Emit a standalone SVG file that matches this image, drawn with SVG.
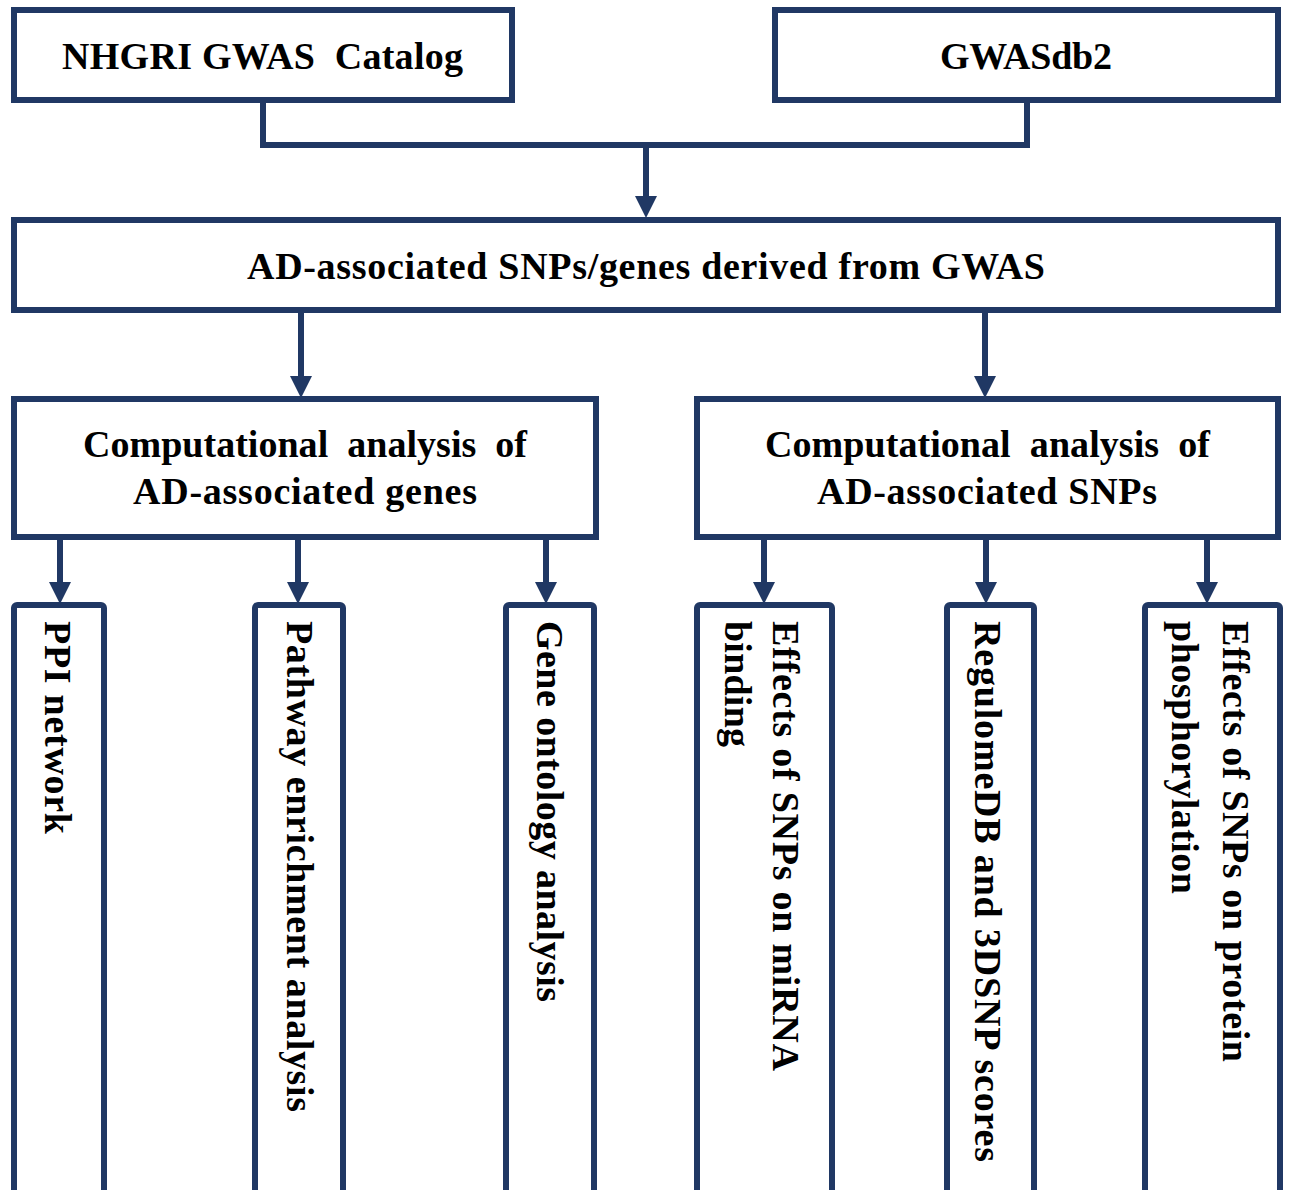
<svg xmlns="http://www.w3.org/2000/svg" width="1290" height="1190" viewBox="0 0 1290 1190">
<defs>
<style>
.box{fill:#ffffff;stroke:#203864;stroke-width:6}
.vbox{fill:#ffffff;stroke:#203864;stroke-width:6}
.con{fill:none;stroke:#203864;stroke-width:6}
.t{font-family:"Liberation Serif","Times New Roman",serif;font-weight:bold;font-size:38px;fill:#000;white-space:pre}
</style>
<marker id="ah" markerUnits="userSpaceOnUse" markerWidth="22" markerHeight="22" refX="10" refY="10" orient="auto" viewBox="0 0 20 20">
<path d="M0,0 L20,10 L0,20 Z" fill="#203864"/>
</marker>
</defs>
<rect width="1290" height="1190" fill="#ffffff"/>

<g id="connectors">
<path class="con" d="M263,101 V145 H1027 V101"/>
<line class="con" x1="646" y1="145" x2="646" y2="207" marker-end="url(#ah)"/>
<line class="con" x1="301" y1="313" x2="301" y2="387" marker-end="url(#ah)"/>
<line class="con" x1="985" y1="313" x2="985" y2="387" marker-end="url(#ah)"/>
<line class="con" x1="60" y1="540" x2="60" y2="593" marker-end="url(#ah)"/>
<line class="con" x1="298" y1="540" x2="298" y2="593" marker-end="url(#ah)"/>
<line class="con" x1="546" y1="540" x2="546" y2="593" marker-end="url(#ah)"/>
<line class="con" x1="764" y1="540" x2="764" y2="593" marker-end="url(#ah)"/>
<line class="con" x1="986" y1="540" x2="986" y2="593" marker-end="url(#ah)"/>
<line class="con" x1="1207" y1="540" x2="1207" y2="593" marker-end="url(#ah)"/>
</g>

<g id="nhgri">
<rect class="box" x="14" y="10" width="498" height="90"/>
<text class="t" x="62" y="69" textLength="401" xml:space="preserve">NHGRI GWAS  Catalog</text>
</g>

<g id="gwasdb2">
<rect class="box" x="775" y="10" width="503" height="90"/>
<text class="t" x="940" y="69" textLength="172">GWASdb2</text>
</g>

<g id="ad-snps-genes">
<rect class="box" x="14" y="220" width="1264" height="90"/>
<text class="t" x="247" y="279" textLength="798">AD-associated SNPs/genes derived from GWAS</text>
</g>

<g id="genes-analysis">
<rect class="box" x="14" y="399" width="582" height="138"/>
<text class="t" x="83" y="457" textLength="444" xml:space="preserve">Computational  analysis  of</text>
<text class="t" x="133" y="504" textLength="344">AD-associated genes</text>
</g>

<g id="snps-analysis">
<rect class="box" x="697" y="399" width="581" height="138"/>
<text class="t" x="765" y="457" textLength="445" xml:space="preserve">Computational  analysis  of</text>
<text class="t" x="817" y="504" textLength="340">AD-associated SNPs</text>
</g>

<g id="ppi">
<rect class="vbox" x="14" y="605" width="90" height="600" rx="3"/>
<text class="t" transform="translate(45,621) rotate(90)" x="0" y="0" textLength="213">PPI network</text>
</g>

<g id="pathway">
<rect class="vbox" x="255" y="605" width="88" height="600" rx="3"/>
<text class="t" transform="translate(287,621) rotate(90)" x="0" y="0" textLength="491">Pathway enrichment analysis</text>
</g>

<g id="gene-ontology">
<rect class="vbox" x="506" y="605" width="88" height="600" rx="3"/>
<text class="t" transform="translate(537,621) rotate(90)" x="0" y="0" textLength="381">Gene ontology analysis</text>
</g>

<g id="mirna">
<rect class="vbox" x="697" y="605" width="135" height="600" rx="3"/>
<text class="t" transform="translate(773,621) rotate(90)" x="0" y="0" textLength="450">Effects of SNPs on miRNA</text>
<text class="t" transform="translate(725,621) rotate(90)" x="0" y="0" textLength="126">binding</text>
</g>

<g id="regulomedb">
<rect class="vbox" x="947" y="605" width="87" height="600" rx="3"/>
<text class="t" transform="translate(975,621) rotate(90)" x="0" y="0" textLength="541">RegulomeDB and 3DSNP scores</text>
</g>

<g id="phospho">
<rect class="vbox" x="1145" y="605" width="135" height="600" rx="3"/>
<text class="t" transform="translate(1223,621) rotate(90)" x="0" y="0" textLength="441">Effects of SNPs on protein</text>
<text class="t" transform="translate(1172,621) rotate(90)" x="0" y="0" textLength="273">phosphorylation</text>
</g>
</svg>
